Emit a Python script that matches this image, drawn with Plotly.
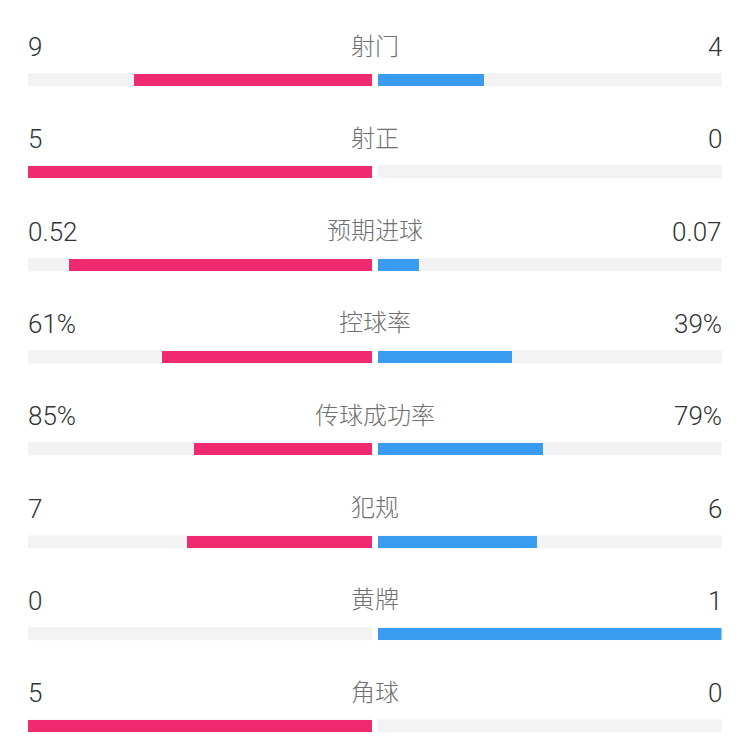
import plotly.graph_objects as go

categories = ["射门", "射正", "预期进球", "控球率", "传球成功率", "犯规", "黄牌", "角球"]
left_values = [9, 5, 0.52, 61, 85, 7, 0, 5]
right_values = [4, 0, 0.07, 39, 79, 6, 1, 0]
left_labels = ["9", "5", "0.52", "61%", "85%", "7", "0", "5"]
right_labels = ["4", "0", "0.07", "39%", "79%", "6", "1", "0"]

PINK = "#EF2A6F"
BLUE = "#3A9CF0"
TRACK = "#F3F3F3"

W, H = 750, 738
OFF = 8  # page body margin
row0 = 80.0 - OFF
step = 92.3
bar_w = 12 / step

n = len(categories)
rows = list(range(n))
left_share = [l / (l + r) if (l + r) else 0 for l, r in zip(left_values, right_values)]
right_share = [r / (l + r) if (l + r) else 0 for l, r in zip(left_values, right_values)]

fig = go.Figure()
fig.add_trace(go.Bar(y=rows, x=[1] * n, orientation="h", marker_color=TRACK,
                     width=bar_w, xaxis="x", yaxis="y", hoverinfo="skip", showlegend=False))
fig.add_trace(go.Bar(y=rows, x=[1] * n, orientation="h", marker_color=TRACK,
                     width=bar_w, xaxis="x2", yaxis="y", hoverinfo="skip", showlegend=False))
fig.add_trace(go.Bar(y=rows, x=left_share, orientation="h", marker_color=PINK,
                     width=bar_w, xaxis="x", yaxis="y", showlegend=False,
                     marker_line_width=0))
fig.add_trace(go.Bar(y=rows, x=right_share, orientation="h", marker_color=BLUE,
                     width=bar_w, xaxis="x2", yaxis="y", showlegend=False,
                     marker_line_width=0))

text_off = 33 / step
num_font = dict(family="Roboto, 'Noto Sans', sans-serif", size=26, color="#333333", weight=300)
lab_font = dict(family="'Noto Sans CJK SC', sans-serif", size=24, color="#707070", weight=300)
for i in rows:
    fig.add_annotation(x=(29 - OFF - 3) / W, y=i - text_off, xref="paper", yref="y", text=left_labels[i],
                       showarrow=False, xanchor="left", yanchor="middle", font=num_font)
    fig.add_annotation(x=(721 - OFF + 3) / W, y=i - text_off, xref="paper", yref="y", text=right_labels[i],
                       showarrow=False, xanchor="right", yanchor="middle", font=num_font)
    fig.add_annotation(x=(375 - OFF) / W, y=i - text_off, xref="paper", yref="y", text=categories[i],
                       showarrow=False, xanchor="center", yanchor="middle", font=lab_font, yshift=3)

y_top = -row0 / step
y_bot = (H - row0) / step
fig.update_layout(
    width=W, height=H,
    margin=dict(l=0, r=0, t=0, b=0),
    paper_bgcolor="white", plot_bgcolor="white",
    barmode="overlay", bargap=0,
    xaxis=dict(domain=[(28 - OFF) / W, (372 - OFF) / W], range=[1, 0], visible=False, fixedrange=True),
    xaxis2=dict(domain=[(378 - OFF) / W, (721.5 - OFF) / W], range=[0, 1], visible=False, fixedrange=True),
    yaxis=dict(range=[y_bot, y_top], visible=False, fixedrange=True),
)
fig.write_html("out.html")
